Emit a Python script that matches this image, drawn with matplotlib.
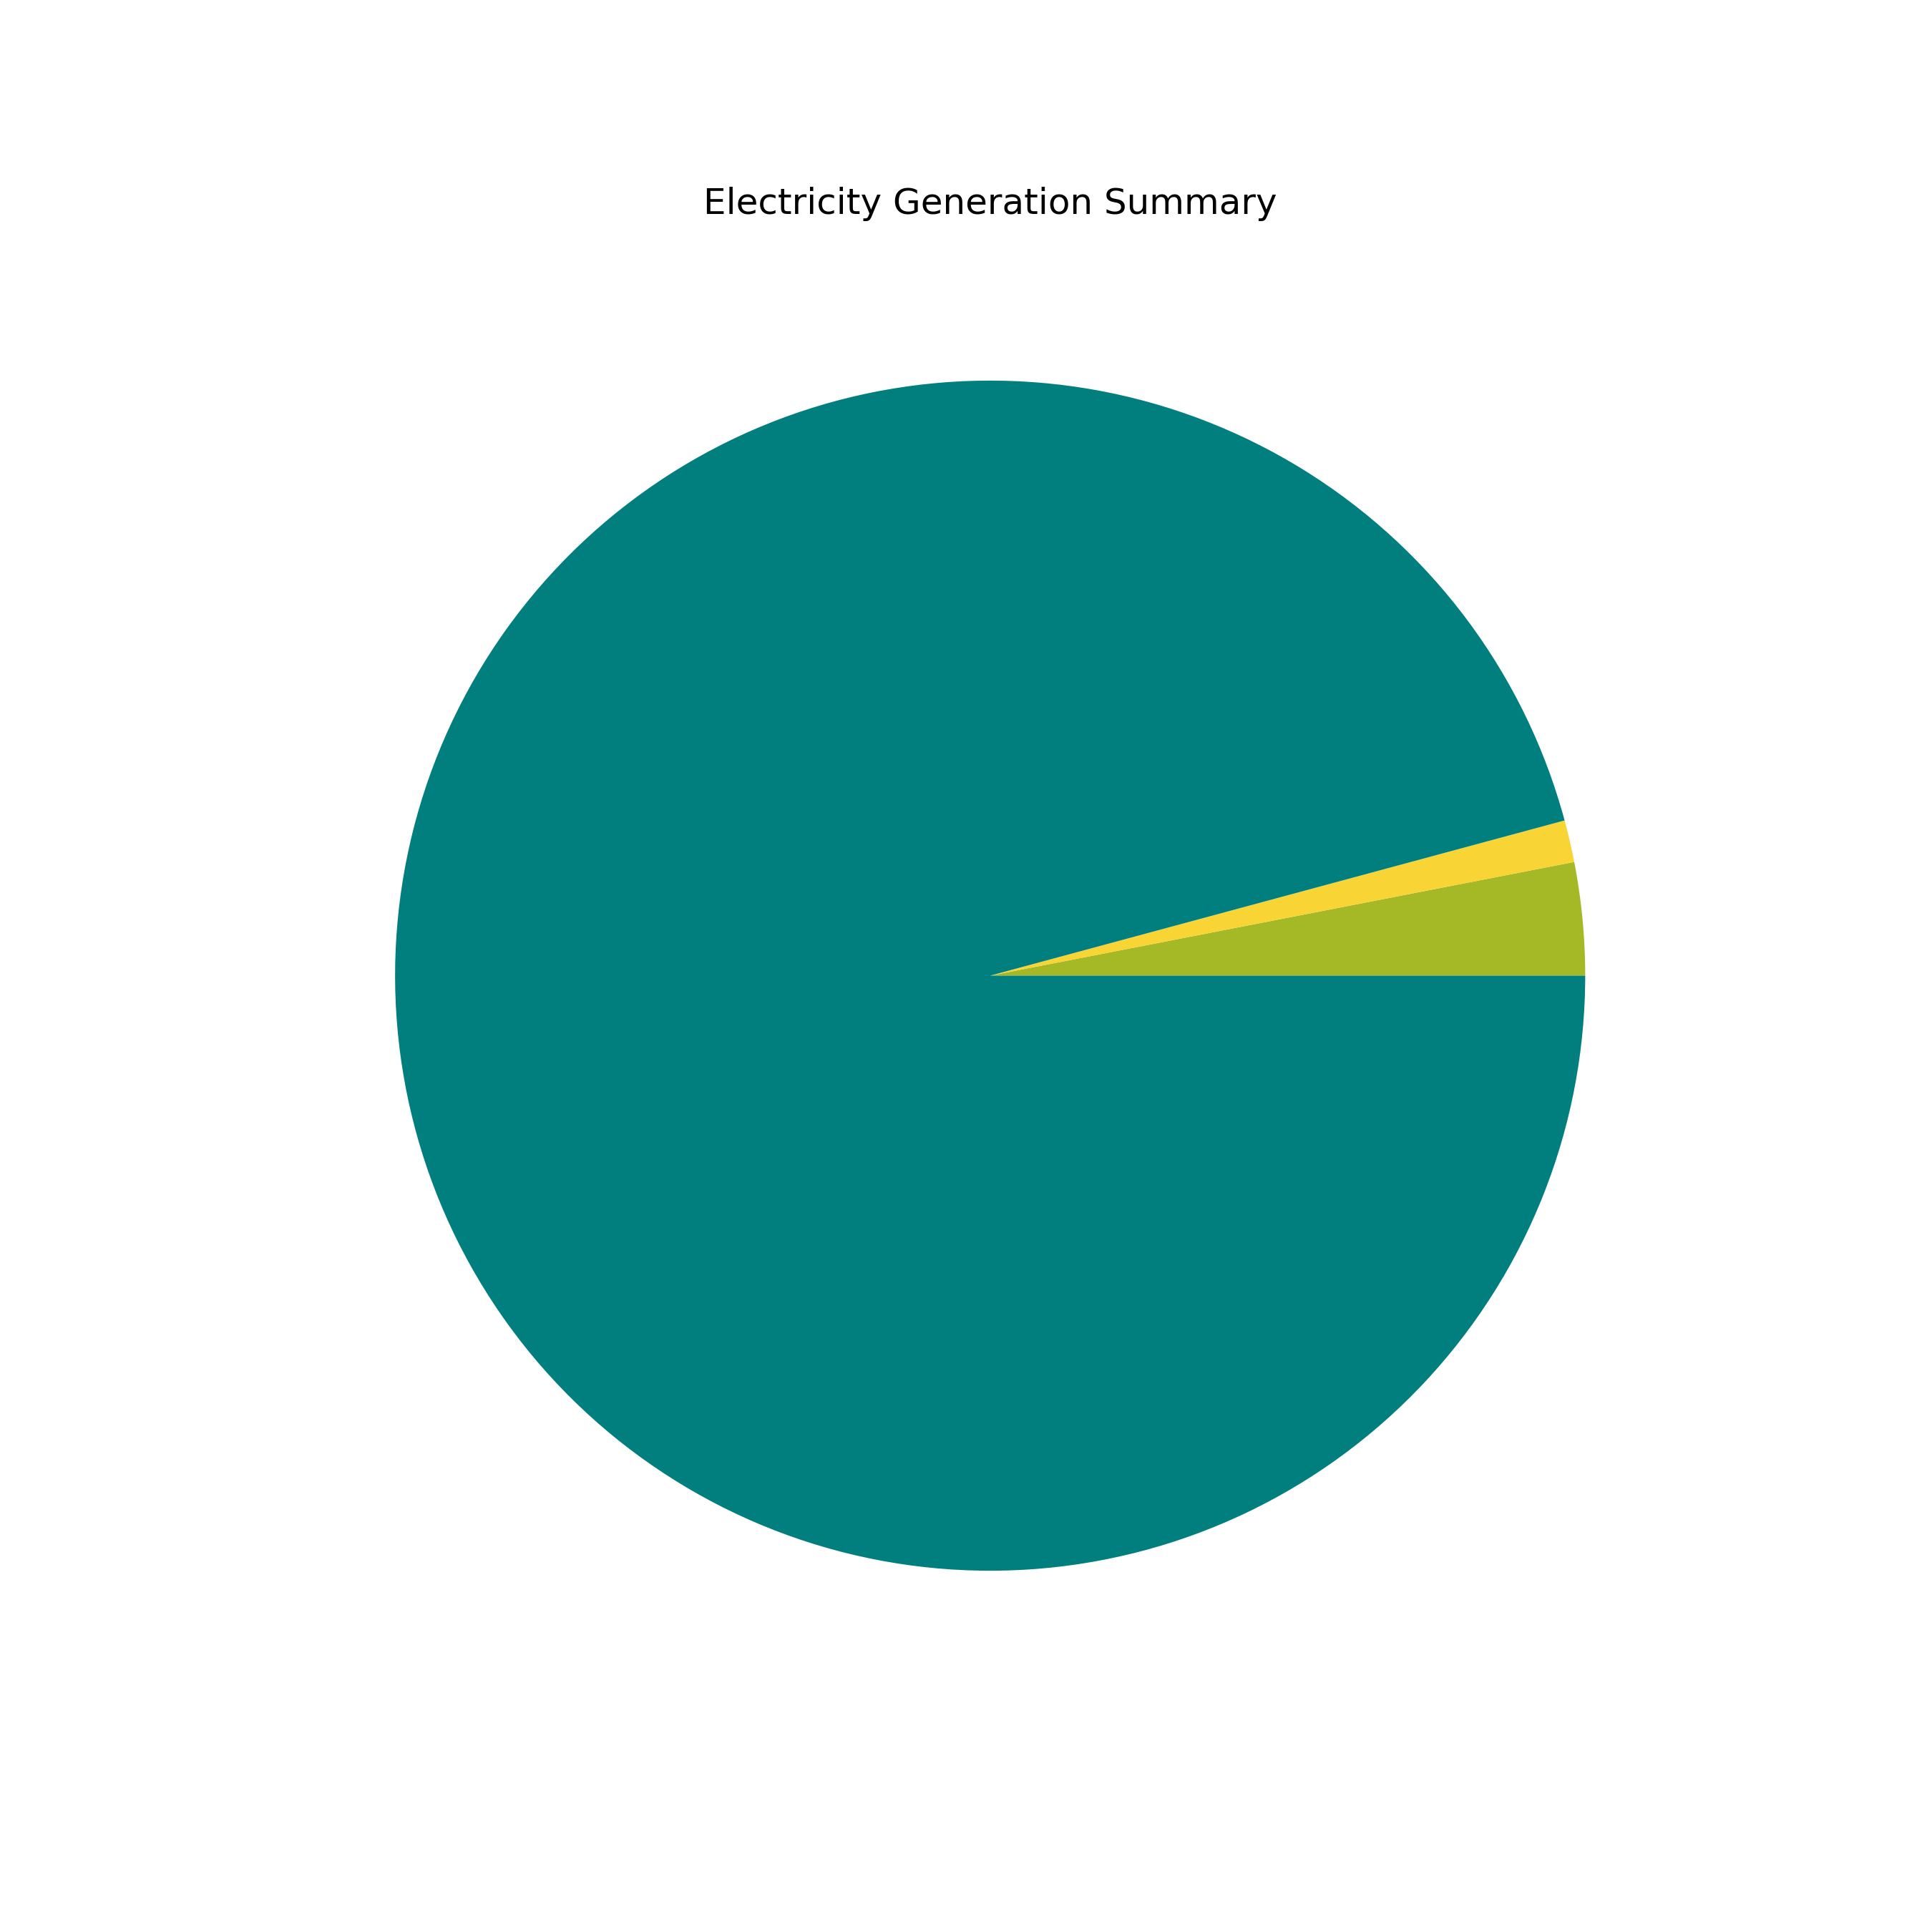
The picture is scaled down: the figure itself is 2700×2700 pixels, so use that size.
import matplotlib
matplotlib.use("Agg")
import matplotlib.pyplot as plt

sources = ["Solar", "Wind", "Other"]
shares = [3.06, 1.14, 95.80]
colors = ["#A5B825", "#F9D435", "#007F7E"]

fig, ax = plt.subplots(figsize=(9, 9), dpi=300)
ax.pie(shares, colors=colors, startangle=0)
ax.set_title("Electricity Generation Summary")
fig.savefig("out.png")
